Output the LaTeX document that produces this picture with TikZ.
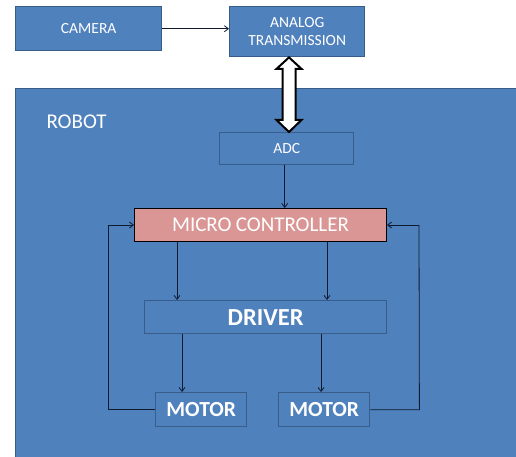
\documentclass[tikz,border=0pt]{standalone}
\usepackage{fontspec}
\setmainfont{Carlito}
\usetikzlibrary{arrows.meta,calc}
\definecolor{obl}{HTML}{4F81BD}
\definecolor{obd}{HTML}{385D8A}
\definecolor{opk}{HTML}{D99694}
\definecolor{ln}{HTML}{0F1A2E}
\tikzset{
  blk/.style={draw=obd, line width=1.4pt, fill=obl, text=white, inner sep=0pt, anchor=north west},
  conn/.style={draw=ln, line width=0.8pt, -{Straight Barb[length=4pt,width=6pt]}},
  fb/.style={draw=ln, line width=0.8pt},
}
\begin{document}
\begin{tikzpicture}[x=1pt,y=-1pt]
\clip (0,0) rectangle (516,457);
\useasboundingbox (0,0) rectangle (516,457);
% robot
\node[blk, minimum width=510pt, minimum height=380pt] (robot) at (15,88) {};
\node[text=white, font=\fontsize{21}{24}\selectfont, anchor=west] (rlabel) at (43,122) {ROBOT};
% top boxes
\node[blk, minimum width=146pt, minimum height=44pt, font=\fontsize{15.5}{17}\selectfont] (cam) at (15,6) {CAMERA};
\node[blk, minimum width=135pt, minimum height=50pt, align=center, font=\fontsize{15.5}{18}\selectfont] (at) at (229,6) {ANALOG\\TRANSMISSION};
% inner
\node[blk, minimum width=134pt, minimum height=32pt, font=\fontsize{15.5}{17}\selectfont] (adc) at (219,132) {ADC};
\node[blk, draw=black, line width=1pt, fill=opk, minimum width=252pt, minimum height=33pt, font=\fontsize{21}{24}\selectfont] (mc) at (134,208) {MICRO\hspace{-0.5pt} CONTROLLER};
\node[blk, minimum width=242pt, minimum height=33pt, font=\bfseries\fontsize{24.5}{28}\selectfont] (drv) at (144,300) {DRIVER};
\node[blk, minimum width=91pt, minimum height=34pt, font=\bfseries\fontsize{21.5}{24}\selectfont] (m1) at (155,392) {MOTOR};
\node[blk, minimum width=91pt, minimum height=34pt, font=\bfseries\fontsize{21.5}{24}\selectfont] (m2) at (278,392) {MOTOR};
% connectors
\draw[conn] (cam.east) -- (cam.east -| at.west);
\draw[conn] ($(adc.south)+(-2,0)$) -- ($(adc.south |- mc.north)+(-2,0)$);
\draw[conn] ($(mc.south west)+(43,0)$) -- ($(drv.north west)+(33,0)$);
\draw[conn] ($(mc.south west)+(193,0)$) -- ($(drv.north west)+(183,0)$);
\draw[conn] ($(drv.south west)+(38,0)$) -- ($(m1.north west)+(27,0)$);
\draw[conn] ($(drv.south west)+(177,0)$) -- ($(m2.north west)+(43,0)$);
\coordinate (l1) at ($(m1.west)+(-47,0)$);
\coordinate (l2) at ($(mc.west)+(-26,0)$);
\draw[fb] (m1.west) -- (l1) -- (l2);
\draw[conn] (l2) -- (mc.west);
\coordinate (r1) at ($(m2.east)+(49,0)$);
\coordinate (r2) at ($(mc.east)+(32,0)$);
\draw[fb] (m2.east) -- (r1) -- (r2);
\draw[conn] (r2) -- (mc.east);
% double arrow
\coordinate (dt) at ($(at.south west)+(60,0)$);
\coordinate (db) at ($(adc.north west)+(70,0)$);
\draw[black, line width=2pt, fill=white, line join=miter]
  (dt) -- ++(12.5,11.5) -- ++(-6,0) -- ($(db)+(6.5,-12)$) -- ++(6,0) -- (db)
  -- ++(-12.5,-12) -- ++(6,0) -- ($(dt)+(-6.5,11.5)$) -- ++(-6,0) -- cycle;
\end{tikzpicture}
\end{document}
